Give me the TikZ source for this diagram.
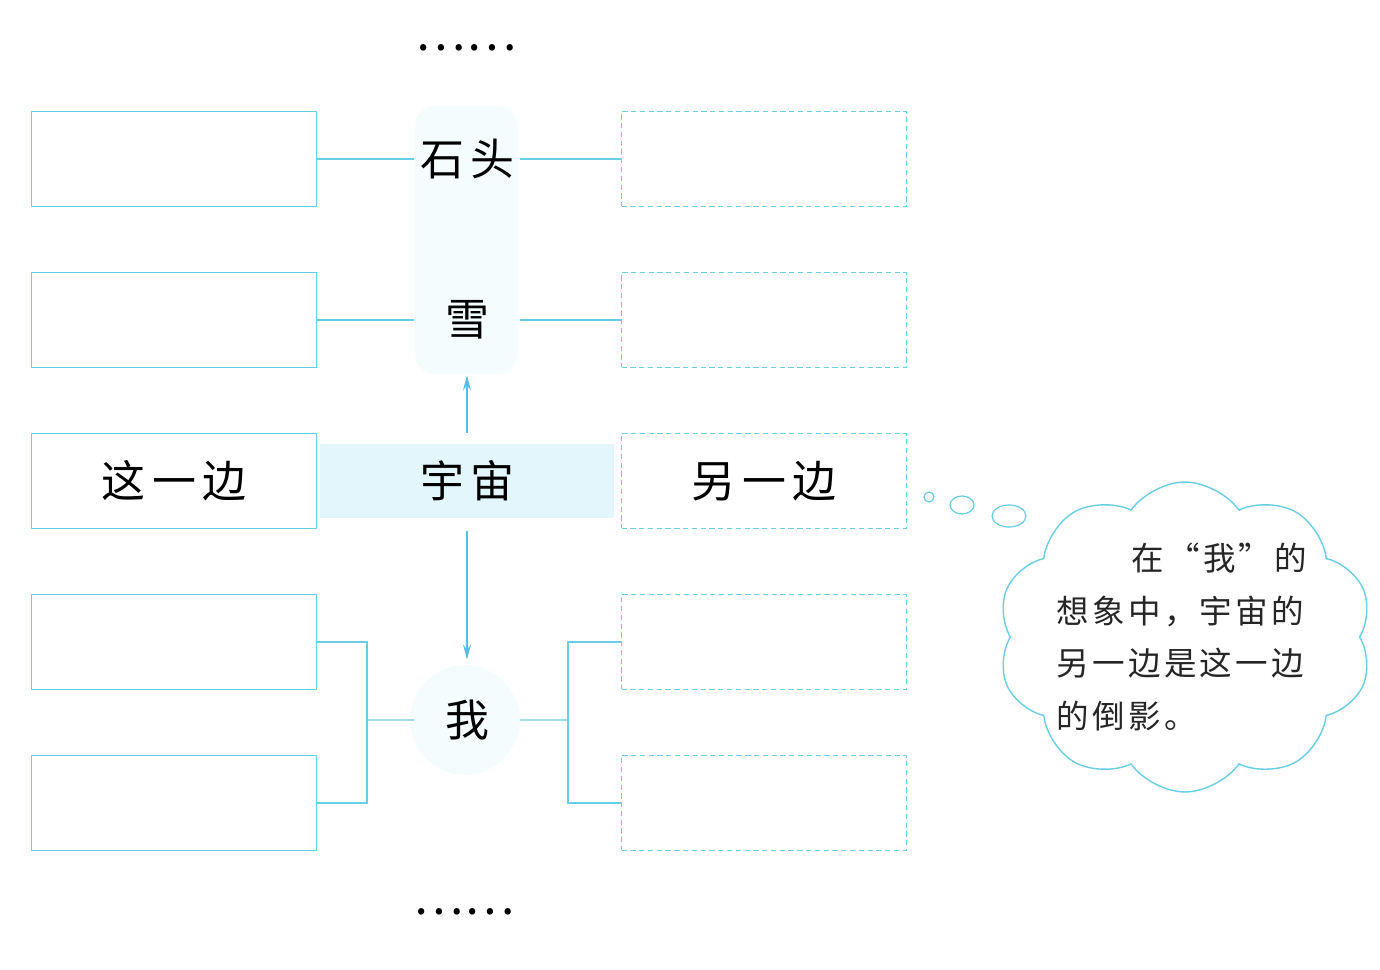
\documentclass[tikz,border=0pt]{standalone}
\usepackage{fontspec}
\setmainfont{Liberation Serif}
\newfontfamily\cjk{Noto Sans CJK SC}
\newfontfamily\cjkwide[LetterSpace=14]{Noto Sans CJK SC}
\newfontfamily\cjknote[LetterSpace=10]{Noto Sans CJK SC}
\usepackage{tikz}
\usetikzlibrary{shapes.symbols, arrows.meta}
\usetikzlibrary{positioning}
\definecolor{lineBlue}{RGB}{105,205,228}
\definecolor{arrowBlue}{RGB}{90,190,228}
\definecolor{bandFill}{RGB}{226,246,252}
\definecolor{columnFill}{RGB}{244,252,254}
\tikzstyle{solidBox} = [rectangle, draw=lineBlue, line width=0.8pt, minimum width=5.7cm, minimum height=1.9cm, font=\cjkwide\fontsize{25}{30}\selectfont]
\tikzstyle{dashBox} = [solidBox, dash pattern=on 3pt off 2pt]
\tikzstyle{keyWord} = [font=\cjkwide\fontsize{25}{30}\selectfont, minimum width=2.1cm, minimum height=1.6cm, inner sep=0pt]
\tikzstyle{link} = [draw=lineBlue, line width=0.8pt]
\tikzstyle{arrow} = [draw=arrowBlue, line width=0.8pt, -{Stealth[length=0.3cm,width=0.16cm]}]

\begin{document}
\begin{tikzpicture}[x=0.02cm, y=-0.02cm, node distance=3.22cm]
    \useasboundingbox (0,0) rectangle (1380,970);
    % pale column behind the words
    \fill [columnFill, rounded corners=0.4cm] (415,106) rectangle (518,374);
    \fill [columnFill] (465,720) circle [radius=1.1cm];
    \node (stone) [keyWord] at (467,159) {石头};
    \node (snow) [keyWord, below of = stone] {雪};
    \node (universe) [keyWord, fill=bandFill, minimum width=5.9cm, minimum height=1.48cm, below of = snow] {宇宙};
    \node (me) [keyWord, below of = universe, yshift=-1.56cm] {我};
    % this side
    \node (left1) [solidBox] at (174,159) {};
    \node (left2) [solidBox, below of = left1] {};
    \node (left3) [solidBox, below of = left2] {这一边};
    \node (left4) [solidBox, below of = left3] {};
    \node (left5) [solidBox, below of = left4] {};
    % other side
    \node (right1) [dashBox] at (764,159) {};
    \node (right2) [dashBox, below of = right1] {};
    \node (right3) [dashBox, below of = right2] {另一边};
    \node (right4) [dashBox, below of = right3] {};
    \node (right5) [dashBox, below of = right4] {};
    \draw [link] (left1) -- (stone);
    \draw [link] (stone) -- (right1);
    \draw [link] (left2) -- (snow);
    \draw [link] (snow) -- (right2);
    \draw [arrow, shorten <=0.22cm, shorten >=0.3cm] (universe) -- (snow);
    \draw [arrow, shorten <=0.26cm, shorten >=0.4cm] (universe) -- (me);
    \coordinate (leftJoin) at (367,720);
    \coordinate (rightJoin) at (568,720);
    \draw [link] (left4) -| (leftJoin) |- (left5);
    \draw [link] (leftJoin) -- (me);
    \draw [link] (right4) -| (rightJoin) |- (right5);
    \draw [link] (me) -- (rightJoin);
    \node (dotsTop) [font=\cjk\fontsize{27}{30}\selectfont] at (466,48) {……};
    \node (dotsBottom) [font=\cjk\fontsize{27}{30}\selectfont] at (464,912) {……};
    % thought cloud
    \node (thought) [cloud, draw=lineBlue, line width=0.8pt, cloud puffs=10, cloud puff arc=110, aspect=1.25, minimum width=7.5cm, minimum height=6.2cm] at (1185,637) {};
    \node (note) [font=\cjknote\fontsize{18.5}{30}\selectfont, text=black!85, align=left, inner sep=0pt] at (1182,637) {\hspace{2.3em}在“我”的\\想象中，宇宙的\\另一边是这一边\\的倒影。};
    \draw [lineBlue, line width=0.7pt] (929,497) circle [radius=0.1cm];
    \draw [lineBlue, line width=0.7pt] (962,505) ellipse [x radius=0.24cm, y radius=0.18cm];
    \draw [lineBlue, line width=0.7pt] (1009,516) ellipse [x radius=0.34cm, y radius=0.22cm];
\end{tikzpicture}
\end{document}
